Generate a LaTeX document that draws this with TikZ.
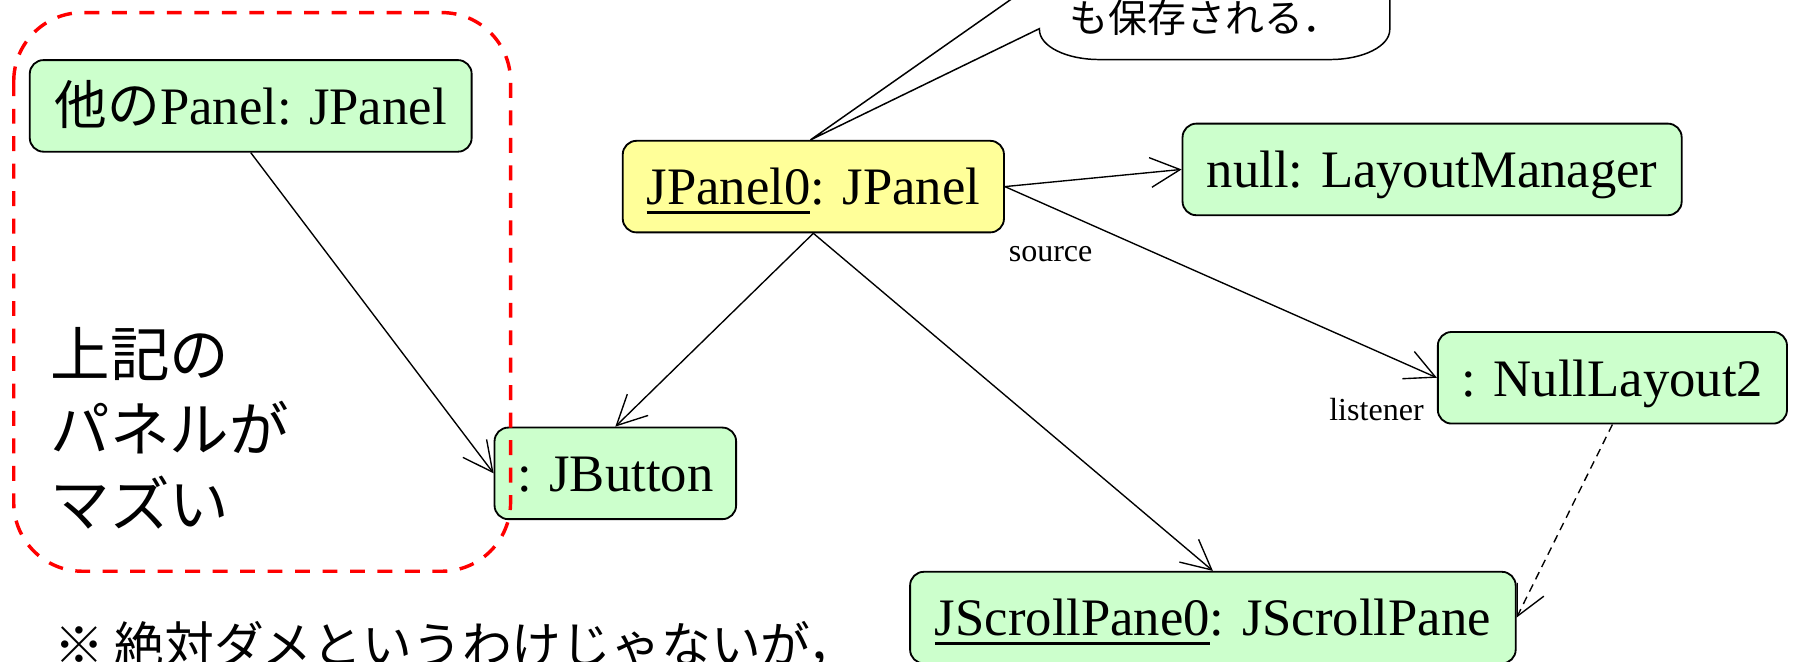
\documentclass[tikz,border=0pt]{standalone}
\usepackage{fontspec}
\setmainfont{Liberation Serif}
\newfontfamily\cjk{Noto Sans CJK JP}
\usetikzlibrary{arrows.meta}
\definecolor{objgreen}{HTML}{CCFFCC}
\definecolor{objyellow}{HTML}{FFFF99}
% underlined object name with a rule of fixed thickness
\newsavebox\ulsave
\newcommand\ulname[1]{\sbox\ulsave{#1}\rlap{\rule[-7.5pt]{\wd\ulsave}{2.6pt}}\usebox\ulsave}
\begin{document}
\begin{tikzpicture}[x=1pt,y=1pt,
  obj/.style={draw=black, line width=1.6pt, rounded corners=12pt, fill=objgreen,
    minimum height=80pt, inner sep=0pt, text height=34pt, text depth=2pt,
    font=\fontsize{46}{50}\selectfont},
  link/.style={line width=1.2pt, -{Straight Barb[length=26pt,width=26pt,line width=1.2pt]}},
  role/.style={font=\fontsize{28}{30}\selectfont, inner sep=0pt, anchor=base west},
  big/.style={font=\cjk\fontsize{52}{60}\selectfont, inner sep=0pt, anchor=base west}]

\useasboundingbox (0,0) rectangle (1568,-578);
\clip (0,0) rectangle (1568,-578);

% objects
\node[obj, minimum width=386pt] (other) at (219,-92.5) {{\cjk 他の}Panel: JPanel};
\node[obj, minimum width=211pt] (button) at (537.5,-413.5) {: JButton};
\node[obj, minimum width=333pt, fill=objyellow] (panel) at (710.5,-163) {\ulname{JPanel0}: JPanel};
\node[obj, minimum width=436pt] (layout) at (1251,-148) {null: LayoutManager};
\node[obj, minimum width=305pt] (nulllayout) at (1408.5,-330) {: NullLayout2};
\node[obj, minimum width=529pt] (scroll) at (1059.5,-539.5) {\ulname{JScrollPane0}: JScrollPane};

% links
\draw[link] (other.south) -- (button.west);
\draw[link] (panel.south) -- (button.north);
\draw[link] (panel.south) -- (scroll.north);
\draw[link] (panel.east) -- (layout.west);
\draw[link] (panel.east) -- (nulllayout.west);
\draw[link, dash pattern=on 7pt off 5pt] (nulllayout.south) -- (scroll.east);

% role names
\node[role] (src) at (881,-228) {source};
\node[role] (lst) at (1161,-367) {listener};

% highlighted group
\draw[red, line width=3pt, dash pattern=on 13pt off 11pt, rounded corners=60pt]
  (12,-11) rectangle (446,-499);
\node[big] (t1) at (44,-329) {上記の};
\node[big] (t2) at (44,-394) {パネルが};
\node[big] (t3) at (44,-460) {マズい};

% remark
\node[font=\cjk\fontsize{43.5}{48}\selectfont, inner sep=0pt, anchor=base west] (note)
  at (47,-580) {※ 絶対ダメというわけじゃないが，};

% speech bubble pointing at JPanel0
\coordinate (tip) at ([xshift=-2.5pt]panel.north);
\filldraw[fill=white, draw=black, line width=1.3pt, line join=miter]
  (908,18) -- (tip) -- (908,-25) -- (908,-26)
  arc[start angle=180, end angle=270, x radius=52, y radius=26] -- (1162,-52)
  arc[start angle=270, end angle=360, x radius=52, y radius=26] -- (1214,20);
\node[font=\cjk\fontsize{34}{38}\selectfont, inner sep=0pt, anchor=base west] (memo)
  at (934,-28) {も保存される．};
\end{tikzpicture}
\end{document}
